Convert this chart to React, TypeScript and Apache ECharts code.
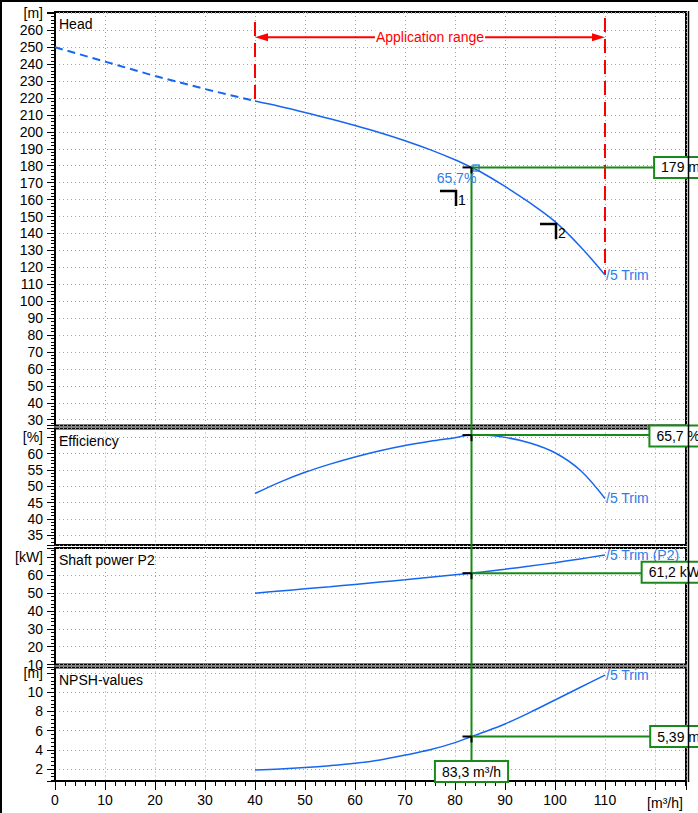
import React, { useEffect, useRef } from 'react';
import * as echarts from 'echarts';

const FONT = '"Liberation Sans", Arial, Helvetica, sans-serif';
const LINE_BLUE = '#1766f2';
const TEXT_BLUE = '#2f7ce6';
const GREEN = '#198a19';
const RED = '#ff0000';

// ---------- data ----------
const headDashedFlow = [0, 10, 20, 30, 40];
const headDashed = [250, 241.5, 233, 225.3, 218.2];
const flow = [40, 45, 50, 55, 60, 65, 70, 75, 80, 83.3, 85, 90, 95, 100, 105, 110];
const head = [218.2, 215, 211.5, 207.8, 203.8, 199.5, 194.8, 189.5, 183.5, 179, 176.6, 167.8, 158, 147, 132.5, 115.5];
const efficiency = [47.8, 51.3, 54.3, 56.8, 59, 60.9, 62.5, 63.8, 64.9, 65.7, 65.7, 65.0, 63.3, 60.3, 55.0, 46.3];
const shaftPower = [50.0, 51.2, 52.4, 53.6, 54.9, 56.2, 57.5, 58.9, 60.3, 61.2, 61.7, 63.4, 65.2, 67.1, 69.2, 71.4];
const npsh = [1.9, 2.0, 2.15, 2.35, 2.6, 2.95, 3.45, 4.0, 4.75, 5.39, 5.7, 6.7, 7.9, 9.2, 10.5, 11.8];

const dutyFlow = 83.3;
const dutyHead = 179;
const dutyEfficiency = 65.7;
const dutyPower = 61.2;
const dutyNpsh = 5.39;
const dutySquare = [84.2, 178.7];

const appRangeFlow = [40, 110];
const appRangeTopHead = [264.9, 267.3];
const appRangeBottomHead = [218.2, 115.5];
const appRangeArrowHead = 255.9;

const marker1 = [[77, 165.1], [80.2, 165.1], [80.2, 156.2]];
const marker2 = [[97, 145.6], [100.2, 145.6], [100.2, 136.6]];
const markerLabels = ['1', '2'];

const xMin = 0;
const xMax = 126.2;

const panels = [
  { title: 'Head', unit: '[m]', min: 26.57, max: 270.8, major: 10, minor: 2, top: 12, height: 413.5 },
  { title: 'Efficiency', unit: '[%]', min: 32.04, max: 67.72, major: 5, minor: 1, top: 428.5, height: 116.5 },
  { title: 'Shaft power P2', unit: '[kW]', min: 10, max: 75.31, major: 10, minor: 2, top: 548, height: 116.5 },
  { title: 'NPSH-values', unit: '[m]', min: 0.747, max: 12.59, major: 2, minor: 0.4, top: 667.5, height: 113.5 },
];

const zip = (xs: number[], ys: number[]) => xs.map((x, i) => [x, ys[i]]);
const fmt = (v: number, d: number) => v.toFixed(d).replace('.', ',');

const dotted = { color: '#a3a3a3', width: 1, type: [1, 3] };

export default function App() {
  const ref = useRef<HTMLDivElement>(null);

  useEffect(() => {
    const chart = echarts.init(ref.current!, null, { renderer: 'svg' });

    const grids = panels.map((p) => ({
      left: 55,
      width: 631,
      top: p.top,
      height: p.height,
      show: true,
      borderColor: '#000',
      borderWidth: 2,
      backgroundColor: 'transparent',
      containLabel: false,
      outerBoundsMode: 'none',
    }));

    const xAxes: any[] = panels.map((_, i) => {
      const bottom = i === panels.length - 1;
      return {
        type: 'value',
        gridIndex: i,
        position: 'bottom',
        min: xMin,
        max: xMax,
        minInterval: 10,
        maxInterval: 10,
        axisLine: { show: bottom, onZero: false, lineStyle: { color: '#000', width: 2 } },
        axisTick: { show: bottom, length: 9, lineStyle: { color: '#000', width: 1 } },
        axisLabel: {
          show: bottom,
          color: '#000',
          fontSize: 14,
          fontFamily: FONT,
          margin: 12,
          showMinLabel: true,
          showMaxLabel: true,
          formatter: (v: number) => {
            const r = Math.round(v);
            if (Math.abs(v - r) > 1e-6 || r % 10 !== 0 || r > 110) return '';
            return String(r);
          },
        },
        splitLine: { show: true, lineStyle: dotted },
      };
    });
    xAxes.push({
      type: 'value',
      gridIndex: panels.length - 1,
      position: 'bottom',
      min: xMin,
      max: xMax,
      minInterval: 2,
      maxInterval: 2,
      axisLine: { show: false, onZero: false },
      axisTick: { show: true, length: 5, lineStyle: { color: '#000', width: 1 } },
      axisLabel: { show: false },
      splitLine: { show: false },
    });

    const yAxes: any[] = [];
    panels.forEach((p, i) => {
      const unitTick = Math.floor(p.max / p.major + 1e-9) * p.major;
      yAxes.push({
        type: 'value',
        gridIndex: i,
        position: 'left',
        min: p.min,
        max: p.max,
        minInterval: p.major,
        maxInterval: p.major,
        axisLine: { show: true, onZero: false, lineStyle: { color: '#000', width: 2 } },
        axisTick: { show: true, length: 8, lineStyle: { color: '#000', width: 1 } },
        axisLabel: {
          color: '#000',
          fontSize: 14,
          fontFamily: FONT,
          margin: 12,
          showMinLabel: true,
          showMaxLabel: true,
          formatter: (v: number) => {
            const k = v / p.major;
            if (Math.abs(k - Math.round(k)) > 1e-6) return '';
            if (Math.abs(v - unitTick) < 1e-6) return p.unit;
            return String(Math.round(v * 100) / 100);
          },
        },
        splitLine: { show: true, lineStyle: dotted },
      });
      yAxes.push({
        type: 'value',
        gridIndex: i,
        position: 'left',
        min: p.min,
        max: p.max,
        minInterval: p.minor,
        maxInterval: p.minor,
        axisLine: { show: false, onZero: false },
        axisTick: { show: true, length: 4, lineStyle: { color: '#000', width: 1 } },
        axisLabel: { show: false },
        splitLine: { show: false },
      });
    });

    const endLabel = (text: string) => ({
      show: true,
      formatter: text,
      color: TEXT_BLUE,
      fontSize: 14,
      fontFamily: FONT,
      distance: 1,
    });

    const curve = (xi: number, yi: number, data: number[][], label: string) => ({
      type: 'line',
      xAxisIndex: xi,
      yAxisIndex: yi,
      data,
      showSymbol: false,
      symbol: 'none',
      smooth: 0.35,
      lineStyle: { color: LINE_BLUE, width: 1.5 },
      endLabel: endLabel(label),
      z: 5,
    });

    const series: any[] = [
      {
        type: 'line',
        xAxisIndex: 0,
        yAxisIndex: 0,
        data: zip(headDashedFlow, headDashed),
        showSymbol: false,
        symbol: 'none',
        lineStyle: { color: LINE_BLUE, width: 2, type: [8, 5] },
        z: 5,
      },
      curve(0, 0, zip(flow, head), '/5 Trim'),
      curve(1, 2, zip(flow, efficiency), '/5 Trim'),
      curve(2, 4, zip(flow, shaftPower), '/5 Trim (P2)'),
      curve(3, 6, zip(flow, npsh), '/5 Trim'),
      ...appRangeFlow.map((q, i) => ({
        type: 'line',
        xAxisIndex: 0,
        yAxisIndex: 0,
        data: [[q, appRangeTopHead[i]], [q, appRangeBottomHead[i]]],
        showSymbol: false,
        symbol: 'none',
        lineStyle: { color: RED, width: 2, type: [14, 7] },
        z: 4,
      })),
      ...[marker1, marker2].map((m) => ({
        type: 'line',
        xAxisIndex: 0,
        yAxisIndex: 0,
        data: m,
        showSymbol: false,
        symbol: 'none',
        lineStyle: { color: '#000', width: 2.5, cap: 'butt', join: 'miter' },
        z: 6,
      })),
      {
        type: 'scatter',
        xAxisIndex: 0,
        yAxisIndex: 0,
        data: [dutySquare],
        symbol: 'rect',
        symbolSize: 6,
        itemStyle: { color: 'rgba(0,0,0,0)', borderColor: LINE_BLUE, borderWidth: 1.5 },
        z: 8,
      },
    ];

    chart.setOption({
      animation: false,
      backgroundColor: '#fff',
      textStyle: { fontFamily: FONT },
      grid: grids,
      xAxis: xAxes,
      yAxis: yAxes,
      series,
    });

    const pt = (xi: number, yi: number, x: number, y: number) =>
      chart.convertToPixel({ xAxisIndex: xi, yAxisIndex: yi } as any, [x, y]) as number[];

    const pH = pt(0, 0, dutyFlow, dutyHead);
    const pE = pt(1, 2, dutyFlow, dutyEfficiency);
    const pS = pt(2, 4, dutyFlow, dutyPower);
    const pN = pt(3, 6, dutyFlow, dutyNpsh);
    const bottomY = panels[3].top + panels[3].height;

    const txt = (x: number, y: number, text: string, opts: any = {}) => ({
      type: 'text',
      x,
      y,
      z: opts.z ?? 60,
      style: {
        text,
        fill: opts.fill ?? '#000',
        fontSize: opts.fontSize ?? 14,
        fontFamily: FONT,
        align: opts.align ?? 'left',
        textAlign: opts.align ?? 'left',
        verticalAlign: opts.vAlign ?? 'middle',
        textVerticalAlign: opts.vAlign ?? 'middle',
        backgroundColor: opts.bg,
        borderColor: opts.border,
        borderWidth: opts.borderWidth,
        padding: opts.padding,
        lineHeight: opts.lineHeight,
      },
    });

    const ln = (x1: number, y1: number, x2: number, y2: number, stroke: string, lineWidth: number, z = 50) => ({
      type: 'line',
      z,
      shape: { x1, y1, x2, y2 },
      style: { stroke, lineWidth },
    });

    const box = (x: number, y: number, text: string, align: string, vAlign = 'middle') =>
      txt(x, y, text, {
        align,
        vAlign,
        bg: '#fff',
        border: GREEN,
        borderWidth: 2,
        padding: [2, 6, 1, 6],
        lineHeight: 16,
        z: 70,
      });

    const aL = pt(0, 0, appRangeFlow[0], appRangeArrowHead);
    const aR = pt(0, 0, appRangeFlow[1], appRangeArrowHead);
    const m1 = pt(0, 0, marker1[1][0], marker1[1][1]);
    const m2 = pt(0, 0, marker2[1][0], marker2[1][1]);

    const elements: any[] = [
      // frame
      ln(0, 1, 698, 1, '#000', 2, 80),
      ln(1, 0, 1, 813, '#000', 2, 80),
      ln(688.5, 11, 688.5, bottomY + 1, '#000', 1.5, 80),
      // panel titles
      ...panels.map((p) => txt(59, p.top + 12, p.title)),
      // x unit
      txt(665, 803, '[m³/h]', { align: 'center' }),
      // application range arrow
      ln(aL[0] + 10, aL[1], aR[0] - 10, aR[1], RED, 2, 40),
      {
        type: 'polygon',
        z: 41,
        shape: { points: [[aL[0], aL[1]], [aL[0] + 13, aL[1] - 4], [aL[0] + 13, aL[1] + 4]] },
        style: { fill: RED },
      },
      {
        type: 'polygon',
        z: 41,
        shape: { points: [[aR[0], aR[1]], [aR[0] - 13, aR[1] - 4], [aR[0] - 13, aR[1] + 4]] },
        style: { fill: RED },
      },
      txt((aL[0] + aR[0]) / 2, aL[1], 'Application range', {
        align: 'center',
        fill: RED,
        bg: '#fff',
        padding: [0, 1, 0, 1],
        z: 42,
      }),
      // duty lines
      ln(pH[0], pH[1], pH[0], bottomY, GREEN, 2, 30),
      ln(pH[0], pH[1], 700, pH[1], GREEN, 2, 30),
      ln(pE[0], pE[1], 700, pE[1], GREEN, 2, 30),
      ln(pS[0], pS[1], 700, pS[1], GREEN, 2, 30),
      ln(pN[0], pN[1], 700, pN[1], GREEN, 2, 30),
      // small black marks at duty points
      ...[pH, pE, pS, pN].flatMap((p) => [
        ln(p[0] - 9, p[1], p[0], p[1], '#000', 2, 35),
        ln(p[0], p[1], p[0], p[1] + 6, '#000', 2, 35),
      ]),
      // duty value boxes
      box(706, pH[1], `${fmt(dutyHead, 0)} m`, 'right'),
      box(706, pE[1] + 1, `${fmt(dutyEfficiency, 1)} %`, 'right'),
      box(706, pS[1] - 1, `${fmt(dutyPower, 1)} kW`, 'right'),
      box(706, pN[1], `${fmt(dutyNpsh, 2)} m`, 'right'),
      box(pH[0], bottomY, `${fmt(dutyFlow, 1)} m³/h`, 'center', 'bottom'),
      // efficiency text at duty point
      txt(pH[0] - 15, pH[1] + 10.5, `${fmt(dutyEfficiency, 1)}%`, { align: 'center', fill: TEXT_BLUE }),
      // marker labels
      txt(m1[0] + 2, m1[1] + 9, markerLabels[0]),
      txt(m2[0] + 2, m2[1] + 9, markerLabels[1]),
    ];

    chart.setOption({ graphic: { elements } });

    return () => chart.dispose();
  }, []);

  return (
    <div
      ref={ref}
      style={{ position: 'fixed', left: 0, top: 0, width: 698, height: 813, background: '#fff' }}
    />
  );
}
